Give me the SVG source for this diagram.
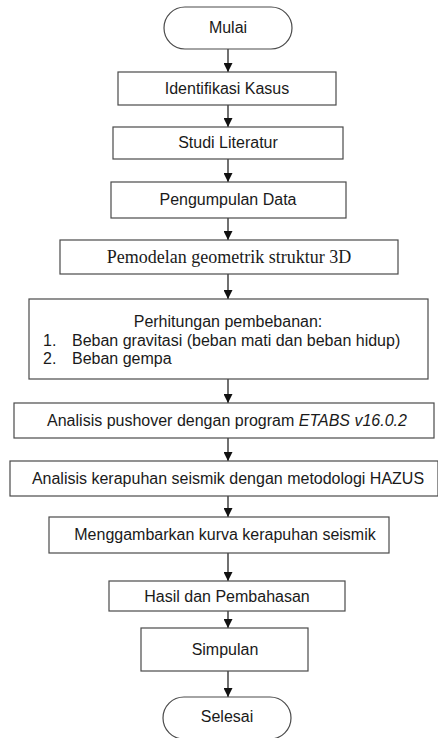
<svg xmlns="http://www.w3.org/2000/svg" width="438" height="738" viewBox="0 0 438 738">
  <style>
    .box { fill: #ffffff; stroke: #4a4a4a; stroke-width: 1.2; }
    .lbl { font-family: "Liberation Sans", Arial, sans-serif; font-size: 16px; fill: #1a1a1a; text-anchor: middle; }
    .lbl-l { font-family: "Liberation Sans", Arial, sans-serif; font-size: 16px; fill: #1a1a1a; }
    .serif { font-family: "Liberation Serif", "Times New Roman", serif; font-size: 18px; fill: #1a1a1a; text-anchor: middle; }
    .link { stroke: #111111; stroke-width: 1.2; fill: none; marker-end: url(#head); }
  </style>
  <defs>
    <marker id="head" viewBox="0 0 10 10" refX="10" refY="5" markerWidth="9" markerHeight="9" markerUnits="userSpaceOnUse" orient="auto">
      <path d="M0,0 L10,5 L0,10 Z" fill="#111111"/>
    </marker>
  </defs>

  <rect width="438" height="738" fill="#ffffff"/>

  <!-- connectors -->
  <g id="connectors">
    <line class="link" x1="228" y1="49" x2="228" y2="72"/>
    <line class="link" x1="228" y1="105" x2="228" y2="127"/>
    <line class="link" x1="228" y1="159" x2="228" y2="182"/>
    <line class="link" x1="228" y1="218" x2="228" y2="240"/>
    <line class="link" x1="228" y1="274" x2="228" y2="299"/>
    <line class="link" x1="228" y1="379" x2="228" y2="403"/>
    <line class="link" x1="228" y1="438" x2="228" y2="461"/>
    <line class="link" x1="228" y1="496" x2="228" y2="517"/>
    <line class="link" x1="228" y1="553" x2="228" y2="581"/>
    <line class="link" x1="228" y1="611" x2="228" y2="628"/>
    <line class="link" x1="228" y1="671" x2="228" y2="697"/>
  </g>

  <!-- nodes -->
  <g id="mulai">
    <rect class="box" x="164" y="7" width="128" height="42" rx="21" ry="21"/>
    <text class="lbl" x="228" y="33">Mulai</text>
  </g>

  <g id="identifikasi-kasus">
    <rect class="box" x="118" y="72" width="218" height="33"/>
    <text class="lbl" x="227" y="94">Identifikasi Kasus</text>
  </g>

  <g id="studi-literatur">
    <rect class="box" x="113" y="127" width="230" height="32"/>
    <text class="lbl" x="228" y="148">Studi Literatur</text>
  </g>

  <g id="pengumpulan-data">
    <rect class="box" x="111" y="182" width="235" height="36"/>
    <text class="lbl" x="228" y="205">Pengumpulan Data</text>
  </g>

  <g id="pemodelan">
    <rect class="box" x="60" y="240" width="338" height="34"/>
    <text class="serif" x="229" y="263">Pemodelan geometrik struktur 3D</text>
  </g>

  <g id="perhitungan-pembebanan">
    <rect class="box" x="29" y="299" width="399" height="80"/>
    <text class="lbl" x="228" y="327">Perhitungan pembebanan:</text>
    <text class="lbl-l" x="43" y="346">1.</text>
    <text class="lbl-l" x="72" y="346">Beban gravitasi (beban mati dan beban hidup)</text>
    <text class="lbl-l" x="43" y="364">2.</text>
    <text class="lbl-l" x="72" y="364">Beban gempa</text>
  </g>

  <g id="analisis-pushover">
    <rect class="box" x="14" y="403" width="420" height="35"/>
    <text class="lbl" x="227" y="426">Analisis pushover dengan program <tspan font-style="italic">ETABS v16.0.2</tspan></text>
  </g>

  <g id="analisis-kerapuhan">
    <rect class="box" x="10" y="461" width="428" height="35"/>
    <text class="lbl" x="228" y="484">Analisis kerapuhan seismik dengan metodologi HAZUS</text>
  </g>

  <g id="kurva-kerapuhan">
    <rect class="box" x="49" y="517" width="340" height="36"/>
    <text class="lbl" x="225" y="540">Menggambarkan kurva kerapuhan seismik</text>
  </g>

  <g id="hasil-pembahasan">
    <rect class="box" x="109" y="581" width="236" height="30"/>
    <text class="lbl" x="227" y="602">Hasil dan Pembahasan</text>
  </g>

  <g id="simpulan">
    <rect class="box" x="141" y="628" width="167" height="43"/>
    <text class="lbl" x="225" y="655">Simpulan</text>
  </g>

  <g id="selesai">
    <rect class="box" x="163" y="697" width="128" height="42" rx="21" ry="21"/>
    <text class="lbl" x="227" y="722">Selesai</text>
  </g>
</svg>
